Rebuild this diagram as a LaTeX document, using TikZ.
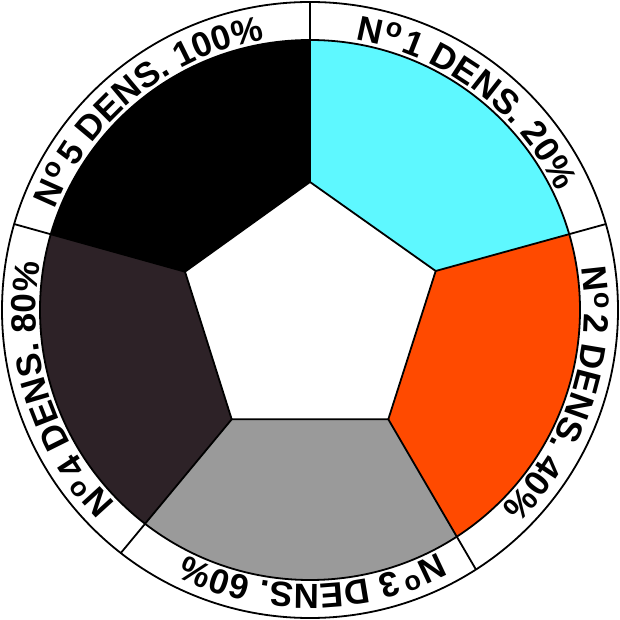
\documentclass[tikz,border=0pt]{standalone}
\usepackage{fontspec}
\setmainfont{Liberation Sans}
\usetikzlibrary{calc,decorations.text}
\definecolor{segcyan}{HTML}{5EF8FF}
\definecolor{segorange}{HTML}{FF4A00}
\definecolor{seggray}{HTML}{9A9A9A}
\definecolor{segdark}{HTML}{2D2227}
\newcommand{\bigf}{\fontsize{35}{36}\selectfont\bfseries}
\newcommand{\supo}{{\kern0.5pt\fontsize{27}{27}\selectfont\bfseries\raisebox{11pt}{o}\kern4pt}}
% #1 centre angle, #2 number, #3 percentage
\newcommand{\ringlabel}[3]{%
  \path[ringtext,decoration={text={|\bigf|N{\supo}#2 DENS. #3{\%}}}]
    (#1+40:274) arc[start angle=#1+40,end angle=#1-40,radius=274];
}
\begin{document}
\begin{tikzpicture}[x=1pt,y=1pt,line join=round,
  edge/.style={line width=1.8pt},
  ringtext/.style={decorate,decoration={text along path,text align=center}}]
\useasboundingbox (-310,-310) rectangle (310,310);
% pentagon vertices
\coordinate (P1) at (0,128);
\coordinate (P2) at (125.7,39);
\coordinate (P3) at (78.3,-109.3);
\coordinate (P4) at (-78.3,-109.3);
\coordinate (P5) at (-125,38.3);
% outer ends of spokes
\coordinate (O1) at (90:308);
\coordinate (O2) at (16.2:308);
\coordinate (O3) at (-57.4:308);
\coordinate (O4) at (-127.9:308);
\coordinate (O5) at (163.8:308);
% extended spoke points
\coordinate (E1) at ($(P1)!1.6!(O1)$);
\coordinate (E2) at ($(P2)!1.6!(O2)$);
\coordinate (E3) at ($(P3)!1.6!(O3)$);
\coordinate (E4) at ($(P4)!1.6!(O4)$);
\coordinate (E5) at ($(P5)!1.6!(O5)$);
% outer ring
\draw[edge,fill=white] (0,0) circle[radius=308];
% coloured segments
\begin{scope}
\clip (0,0) circle[radius=270];
\fill[segcyan]   (P1) -- (E1) -- (53:700)  -- (E2) -- (P2) -- cycle;
\fill[segorange] (P2) -- (E2) -- (-20:700) -- (E3) -- (P3) -- cycle;
\fill[seggray]   (P3) -- (E3) -- (-92:700) -- (E4) -- (P4) -- cycle;
\fill[segdark]   (P4) -- (E4) -- (198:700) -- (E5) -- (P5) -- cycle;
\fill[black]     (P5) -- (E5) -- (127:700) -- (E1) -- (P1) -- cycle;
\end{scope}
\draw[edge] (0,0) circle[radius=270];
\draw[edge,fill=white] (P1) -- (P2) -- (P3) -- (P4) -- (P5) -- cycle;
\draw[edge] (P1) -- (O1);
\draw[edge] (P2) -- (O2);
\draw[edge] (P3) -- (O3);
\draw[edge] (P4) -- (O4);
\draw[edge] (P5) -- (O5);
% ring texts
\ringlabel{53}{1}{20}
\ringlabel{-18.5}{2}{40}
\ringlabel{-89.5}{3}{60}
\ringlabel{197.5}{4}{80}
\ringlabel{129}{5}{100}
\end{tikzpicture}
\end{document}
